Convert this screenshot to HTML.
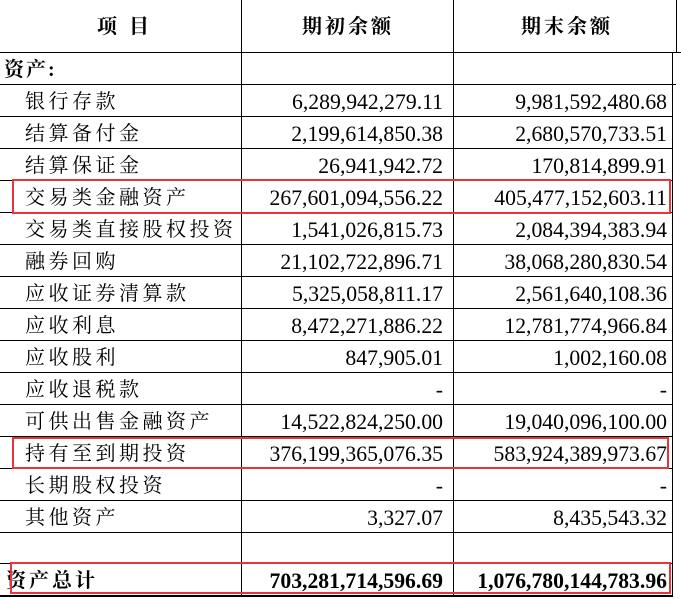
<!DOCTYPE html>
<html><head><meta charset="utf-8"><style>
body{margin:0;width:681px;height:599px;background:#fff;overflow:hidden;position:relative;font-family:"Liberation Serif","Noto Serif CJK SC","Noto Sans CJK SC",serif;color:#000}
.h{position:absolute;background:#000;height:1px}
.v{position:absolute;background:#000;width:1px}
.t{position:absolute;font-size:20px;line-height:32px;letter-spacing:3.5px;white-space:nowrap}
.n{position:absolute;font-size:21.7px;line-height:32px;text-align:right;white-space:nowrap}
.r{position:absolute;border:2.5px solid #e8343a;box-sizing:border-box}
</style></head><body>
<div class="h" style="left:0;top:52px;width:681px"></div>
<div class="h" style="left:0;top:84px;width:676px"></div>
<div class="v" style="left:241px;top:0;height:597px"></div>
<div class="v" style="left:453px;top:0;height:597px"></div>
<div class="v" style="left:676px;top:0;height:52px"></div>
<div class="v" style="left:672px;top:52px;height:545px"></div>
<div class="t" style="left:97px;top:11px;font-weight:bold;letter-spacing:12px">项目</div>
<div class="t" style="left:302px;top:11px;font-weight:bold;letter-spacing:3px">期初余额</div>
<div class="t" style="left:521px;top:11px;font-weight:bold;letter-spacing:3px">期末余额</div>
<div class="t" style="left:4px;top:54px;font-weight:bold;letter-spacing:2px">资产:</div>
<div id="rows"></div>
<div class="h" style="left:0;top:563px;width:672px"></div>
<div class="h" style="left:0;top:595px;width:672px;height:2px"></div>
<div class="t" style="left:6px;top:565px;font-weight:bold;letter-spacing:3px">资产总计</div>
<div class="n" style="right:238px;top:565px;font-weight:bold">703,281,714,596.69</div>
<div class="n" style="right:14px;top:565px;font-weight:bold">1,076,780,144,783.96</div>
<div class="r" style="left:12px;top:179px;width:659px;height:35px"></div>
<div class="r" style="left:12px;top:437px;width:657px;height:32px"></div>
<div class="r" style="left:10px;top:562px;width:661px;height:32px"></div>
<script>
var d=[["银行存款","6,289,942,279.11","9,981,592,480.68"],["结算备付金","2,199,614,850.38","2,680,570,733.51"],["结算保证金","26,941,942.72","170,814,899.91"],["交易类金融资产","267,601,094,556.22","405,477,152,603.11"],["交易类直接股权投资","1,541,026,815.73","2,084,394,383.94"],["融券回购","21,102,722,896.71","38,068,280,830.54"],["应收证券清算款","5,325,058,811.17","2,561,640,108.36"],["应收利息","8,472,271,886.22","12,781,774,966.84"],["应收股利","847,905.01","1,002,160.08"],["应收退税款","-","-"],["可供出售金融资产","14,522,824,250.00","19,040,096,100.00"],["持有至到期投资","376,199,365,076.35","583,924,389,973.67"],["长期股权投资","-","-"],["其他资产","3,327.07","8,435,543.32"]];
var h="";d.forEach(function(r,i){var y=84+32*i;h+='<div class="t" style="left:25px;top:'+(y+2)+'px">'+r[0]+'</div><div class="n" style="right:238px;top:'+(y+2)+'px">'+r[1]+'</div><div class="n" style="right:14px;top:'+(y+2)+'px">'+r[2]+'</div><div class="h" style="left:0;top:'+(y+32)+'px;width:672px"></div>';});
document.getElementById("rows").innerHTML=h;
</script>
</body></html>
